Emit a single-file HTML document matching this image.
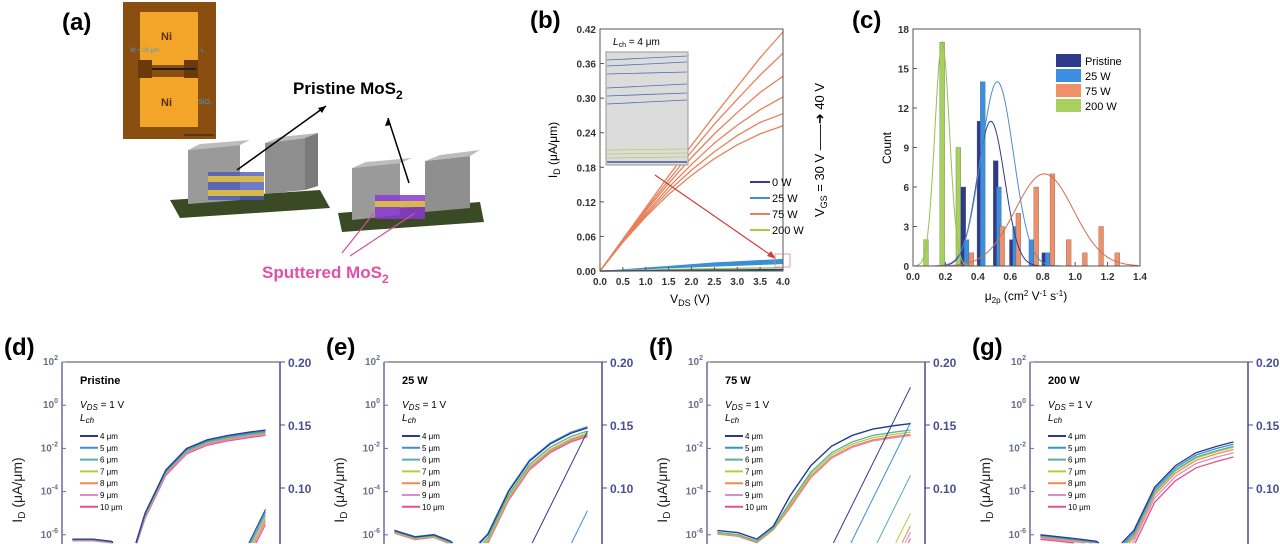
<!DOCTYPE html>
<html><head><meta charset="utf-8"><style>
html,body{margin:0;padding:0;background:#fff;width:1280px;height:544px;overflow:hidden;}
svg{display:block;font-family:"Liberation Sans",Arial,sans-serif;overflow:hidden;}
</style></head><body>
<svg id="s" width="1280" height="544" viewBox="0 0 1280 544" xmlns="http://www.w3.org/2000/svg">
<g>
<text x="62" y="30" font-size="24" font-weight="bold">(a)</text>
<g>
<rect x="123" y="2" width="93" height="137" fill="#8a4f10"/>
<rect x="140" y="12" width="58" height="53" fill="#f3a52a"/>
<rect x="140" y="77" width="58" height="50" fill="#f3a52a"/>
<rect x="138" y="60" width="14" height="18" fill="#6a3a0a"/>
<rect x="184" y="60" width="14" height="18" fill="#6a3a0a"/>
<line x1="152" y1="69" x2="196" y2="69" stroke="#222" stroke-width="2"/>
<text x="161" y="40" font-size="11" font-weight="bold" fill="#5a2d00">Ni</text>
<text x="161" y="106" font-size="11" font-weight="bold" fill="#5a2d00">Ni</text>
<text x="130" y="52" font-size="6" fill="#3aa0d0">W = 20 μm</text>
<text x="201" y="52" font-size="6" fill="#3aa0d0">L</text>
<text x="198" y="104" font-size="7" fill="#3aa0d0">SiO₂</text>
<line x1="184" y1="135" x2="214" y2="135" stroke="#222" stroke-width="1"/>
</g>
<g>
<polygon points="170,200 320,190 330,208 180,218" fill="#3a4a24"/>
<polygon points="188,150 240,145 240,200 188,204" fill="#9a9a9a"/>
<polygon points="188,150 240,145 250,140 200,144" fill="#bcbcbc"/>
<polygon points="265,143 305,138 305,190 265,194" fill="#8f8f8f"/>
<polygon points="265,143 305,138 318,133 280,137" fill="#bcbcbc"/>
<polygon points="305,138 318,133 318,186 305,190" fill="#7a7a7a"/>
<rect x="208" y="172" width="56" height="28" fill="#4a5ab8" opacity="0.8"/>
<rect x="208" y="176" width="56" height="6" fill="#d8b84a"/>
<rect x="208" y="190" width="56" height="6" fill="#d8b84a"/>
</g>
<g>
<polygon points="338,213 480,202 484,222 342,232" fill="#3a4a24"/>
<polygon points="352,168 400,163 400,215 352,220" fill="#9a9a9a"/>
<polygon points="352,168 400,163 412,158 366,162" fill="#bcbcbc"/>
<polygon points="425,161 470,156 470,208 425,212" fill="#8f8f8f"/>
<polygon points="425,161 470,156 480,150 440,155" fill="#bcbcbc"/>
<rect x="375" y="195" width="50" height="24" fill="#8a3ad0" opacity="0.85"/>
<rect x="375" y="201" width="50" height="6" fill="#d8b84a"/>
</g>
<line x1="237" y1="170" x2="326" y2="106" stroke="#000" stroke-width="1.5"/>
<polygon points="326,106 318,108 322,113" fill="#000"/>
<line x1="409" y1="183" x2="388" y2="118" stroke="#000" stroke-width="1.5"/>
<polygon points="388,118 385,126 391,125" fill="#000"/>
<text x="293" y="94" font-size="17" font-weight="bold">Pristine MoS<tspan font-size="12" dy="5">2</tspan></text>
<line x1="374" y1="213" x2="342" y2="253" stroke="#d050a0" stroke-width="1.2"/>
<line x1="415" y1="213" x2="350" y2="256" stroke="#d050a0" stroke-width="1.2"/>
<text x="262" y="278" font-size="17" font-weight="bold" fill="#e050a8">Sputtered MoS<tspan font-size="12" dy="5">2</tspan></text>
</g>
<g id="gb"></g>
<g id="gc"></g>
<g id="gd"></g>
</svg>
<script>
const NS="http://www.w3.org/2000/svg";
function mk(p,t,a,txt){const e=document.createElementNS(NS,t);for(const k in a)e.setAttribute(k,a[k]);if(txt!==undefined)e.textContent=txt;p.appendChild(e);return e;}

// ===== Panel b data =====
const vds=[0,0.5,1,1.5,2,2.5,3,3.5,4];
const w75a=[0,0.055,0.11,0.165,0.218,0.27,0.32,0.37,0.415];
const w75b=[0,0.054,0.107,0.158,0.207,0.255,0.298,0.34,0.378];
const w75c=[0,0.053,0.104,0.152,0.197,0.238,0.275,0.31,0.338];
const w75d=[0,0.052,0.1,0.145,0.185,0.222,0.253,0.28,0.302];
const w75e=[0,0.051,0.097,0.139,0.175,0.207,0.235,0.258,0.273];
const w75f=[0,0.05,0.094,0.133,0.166,0.195,0.219,0.238,0.252];
const w25=[0,0.003,0.006,0.009,0.012,0.015,0.017,0.019,0.021];
const w25lo=[0,0.0015,0.003,0.0045,0.006,0.0075,0.009,0.0105,0.012];
const w200=[0,0.0008,0.0016,0.0024,0.0032,0.004,0.0046,0.0052,0.0058];
const w0=[0,0.0003,0.0006,0.0009,0.0012,0.0015,0.0018,0.0021,0.0024];
const bYt=[0,0.06,0.12,0.18,0.24,0.30,0.36,0.42];
const bXt=[0,0.5,1,1.5,2,2.5,3,3.5,4];
(function(){
const g=document.getElementById('gb');
const X0=600,X1=783,Y0=271,Y1=29;
const x=v=>X0+(v/4)*(X1-X0), y=v=>Y0-(v/0.42)*(Y0-Y1);
mk(g,'text',{x:530,y:28,'font-size':24,'font-weight':'bold',},'(b)');
let band=mk(g,'path',{d:'M'+vds.map((v,i)=>x(v)+','+y(w25[i])).join('L')+'L'+vds.slice().reverse().map((v,i)=>x(v)+','+y(w25lo[8-i])).join('L')+'Z',fill:'#3a8fd6'});

const ser=[[w200,'#a8cc40'],[w0,'#2d3a8c']];
ser.forEach(s=>{const l=mk(g,'polyline',{points:vds.map((v,i)=>x(v)+','+y(s[0][i])).join(' '),fill:'none',stroke:s[1],'stroke-width':1.5});});
[w75a,w75b,w75c,w75d,w75e,w75f].forEach(a=>{const l=mk(g,'polyline',{points:vds.map((v,i)=>x(v)+','+y(a[i])).join(' '),fill:'none',stroke:'#e8805a','stroke-width':1.3});});
mk(g,'rect',{x:X0,y:Y1,width:X1-X0,height:Y0-Y1,fill:'none',stroke:'#555','stroke-width':1});
bYt.forEach(v=>{mk(g,'line',{x1:X0,x2:X0+4,y1:y(v),y2:y(v),stroke:'#555'});const t=mk(g,'text',{x:X0-4,y:y(v)+4,'font-size':10,'text-anchor':'end',fill:'#333','font-weight':'bold'},v.toFixed(2));});
bXt.forEach(v=>{mk(g,'line',{x1:x(v),x2:x(v),y1:Y0,y2:Y0-4,stroke:'#555'});const t=mk(g,'text',{x:x(v),y:Y0+14,'font-size':10,'text-anchor':'middle',fill:'#333','font-weight':'bold'},v.toFixed(1));});
const xt=mk(g,'text',{x:690,y:303,'font-size':12,'text-anchor':'middle',});
xt.innerHTML='V<tspan font-size="9" dy="3">DS</tspan><tspan dy="-3"> (V)</tspan>';
const yt=mk(g,'text',{transform:'translate(557,150) rotate(-90)','font-size':12,'text-anchor':'middle',});
yt.innerHTML='I<tspan font-size="9" dy="3">D</tspan><tspan dy="-3"> (μA/μm)</tspan>';
mk(g,'rect',{x:606,y:52,width:82,height:113,fill:'#dcdcdc',stroke:'#999',});
[[60,56],[66,62],[74,72],[88,84],[96,93],[104,100]].forEach(p=>mk(g,'line',{x1:607,x2:687,y1:p[0],y2:p[1],stroke:'#4a70b0','stroke-width':0.8}));
[150,154,158].forEach(v=>mk(g,'line',{x1:607,x2:687,y1:v,y2:v-1,stroke:'#b8cc60','stroke-width':0.8}));
mk(g,'line',{x1:607,x2:687,y1:162,y2:162,stroke:'#4a5a90','stroke-width':1.5});
const it=mk(g,'text',{x:613,y:45,'font-size':10,});
it.innerHTML='<tspan font-style="italic">L</tspan><tspan font-size="7" dy="2">ch</tspan><tspan dy="-2"> = 4 μm</tspan>';
mk(g,'line',{x1:655,y1:175,x2:772,y2:256,stroke:'#d04040','stroke-width':1.2});
mk(g,'polygon',{points:'776,259 767,256 771,251',fill:'#d04040'});
mk(g,'rect',{x:775,y:254,width:15,height:13,fill:'none',stroke:'#d88','stroke-width':0.8});
[['0 W','#3a3a8c'],['25 W','#3a8fd6'],['75 W','#e8805a'],['200 W','#a8cc40']].forEach((e,i)=>{const yy=182+i*16;const l=mk(g,'line',{x1:750,x2:770,y1:yy,y2:yy,stroke:e[1],'stroke-width':2});const t=mk(g,'text',{x:772,y:yy+4,'font-size':11},e[0]);});
const vg=mk(g,'text',{transform:'translate(824,150) rotate(-90)','font-size':13,'text-anchor':'middle',});
vg.innerHTML='V<tspan font-size="9" dy="3">GS</tspan><tspan dy="-3"> = 30 V  ——➜  40 V</tspan>';
})();

// ===== Panel c data =====
const cXt=[0,0.2,0.4,0.6,0.8,1.0,1.2,1.4];
const cYt=[0,3,6,9,12,15,18];
const binsPristine=[0.31,0.41,0.51,0.61,0.81];
const cntPristine=[6,11,8,2,1];
const bins25=[0.33,0.43,0.53,0.63,0.73,0.83];
const cnt25=[2,14,6,3,2,1];
const bins75=[0.36,0.55,0.65,0.76,0.86,0.96,1.06,1.16,1.26];
const cnt75=[1,3,4,6,7,2,1,3,1];
const bins200=[0.08,0.18,0.28];
const cnt200=[2,17,9];
const fitMean=[0.48,0.52,0.81,0.18];
const fitSd=[0.085,0.1,0.18,0.045];
const fitPeak=[11,14,7,17];
(function(){
const g=document.getElementById('gc');
const X0=913,X1=1140,Y0=266,Y1=29;
const x=v=>X0+(v/1.4)*(X1-X0), y=v=>Y0-(v/18)*(Y0-Y1);
mk(g,'text',{x:852,y:28,'font-size':24,'font-weight':'bold',},'(c)');
const cols=['#303a8c','#3a8fe0','#f0906a','#a8d060'];
const fcols=['#303a8c','#4a8fd0','#d07050','#98c050'];
[[bins200,cnt200,3],[binsPristine,cntPristine,0],[bins25,cnt25,1],[bins75,cnt75,2]].forEach(s=>{
 s[0].forEach((b,i)=>{const bw=x(0.03)-x(0);const r=mk(g,'rect',{x:x(b)-bw/2,y:y(s[1][i]),width:bw,height:Y0-y(s[1][i]),fill:cols[s[2]],stroke:'#555','stroke-width':0.3});});
});
for(let k=0;k<4;k++){let pts=[];for(let v=0;v<=1.4;v+=0.01){pts.push(x(v)+','+y(fitPeak[k]*Math.exp(-Math.pow(v-fitMean[k],2)/(2*fitSd[k]*fitSd[k]))));}
 const l=mk(g,'polyline',{points:pts.join(' '),fill:'none',stroke:fcols[k],'stroke-width':1});}
mk(g,'rect',{x:X0,y:Y1,width:X1-X0,height:Y0-Y1,fill:'none',stroke:'#555'});
cYt.forEach(v=>{mk(g,'line',{x1:X0,x2:X0+4,y1:y(v),y2:y(v),stroke:'#555'});const t=mk(g,'text',{x:X0-4,y:y(v)+4,'font-size':10,'text-anchor':'end','font-weight':'bold',fill:'#333'},v);});
cXt.forEach(v=>{mk(g,'line',{x1:x(v),x2:x(v),y1:Y0,y2:Y0-4,stroke:'#555'});const t=mk(g,'text',{x:x(v),y:Y0+14,'font-size':10,'text-anchor':'middle','font-weight':'bold',fill:'#333'},v.toFixed(1));});
mk(g,'text',{transform:'translate(891,148) rotate(-90)','font-size':12,'text-anchor':'middle',},'Count');
const xt=mk(g,'text',{x:1026,y:300,'font-size':12,'text-anchor':'middle',});
xt.innerHTML='μ<tspan font-size="8" dy="3">2p</tspan><tspan dy="-3"> (cm</tspan><tspan font-size="8" dy="-4">2</tspan><tspan dy="4"> V</tspan><tspan font-size="8" dy="-4">-1</tspan><tspan dy="4"> s</tspan><tspan font-size="8" dy="-4">-1</tspan><tspan dy="4">)</tspan>';
['Pristine','25 W','75 W','200 W'].forEach((n,i)=>{const yy=54+i*15;const r=mk(g,'rect',{x:1056,y:yy,width:25,height:13,fill:cols[i]});const t=mk(g,'text',{x:1085,y:yy+11,'font-size':11},n);});
})();

// ===== Panels d-g data =====
const vgUnits=[0.5,1.5,2.4,3.2,4,5,6,7,8,9,9.8];
const logPristine=[-6.2,-6.2,-6.3,-7.5,-5,-3,-2,-1.6,-1.4,-1.25,-1.15];
const log25=[-5.8,-6.1,-6,-6.3,-7,-6,-4,-2.6,-1.8,-1.3,-1.05];
const log75=[-5.8,-5.9,-6.2,-5.6,-4.2,-2.8,-1.9,-1.4,-1.1,-0.95,-0.85];
const log200=[-6.0,-6.1,-6.2,-6.3,-6.8,-5.8,-3.8,-2.8,-2.2,-1.9,-1.7];
const lenOffsetPristine=[0,-0.05,-0.1,-0.12,-0.15,-0.2,-0.25];
const lenOffset25=[0,0.05,-0.15,-0.25,-0.3,-0.35,-0.4];
const lenOffset75=[0,0,-0.3,-0.4,-0.5,-0.55,-0.55];
const lenOffset200=[0,-0.1,-0.2,-0.25,-0.35,-0.5,-0.7];
const linEndPristine=[0.083,0.081,0.079,0.077,0.075,0.073,0.071];
const linEnd25=[0.145,0.082,0.05,0.04,0.035,0.03,0.028];
const linEnd75=[0.18,0.152,0.11,0.08,0.07,0.065,0.06];
const linEnd200=[0.05,0.045,0.04,0.035,0.03,0.028,0.025];
const lenLabels=['4 μm','5 μm','6 μm','7 μm','8 μm','9 μm','10 μm'];
const leftTicks=[2,0,-2,-4,-6];
const rightTicks=[0.20,0.15,0.10];
const YMAX=543;
// split a point list into sub-polylines that stay within y<=YMAX
function clipPts(pts){const out=[];let cur=[];
 for(let i=0;i<pts.length;i++){const p=pts[i];const inside=p[1]<=YMAX;
  if(i>0){const q=pts[i-1];const qin=q[1]<=YMAX;
   if(inside!==qin){const t=(YMAX-q[1])/(p[1]-q[1]);const c=[q[0]+t*(p[0]-q[0]),YMAX];cur.push(c);if(!inside){out.push(cur);cur=[];}}}
  if(inside)cur.push(p);}
 if(cur.length)out.push(cur);return out.filter(s=>s.length>1);}
(function(){
const g=document.getElementById('gd');
const colsL=['#2d3a8c','#3a8fd6','#5ab0a0','#b8cc40','#f08a50','#d890c8','#e8508a'];
const panels=[['(d)','Pristine',logPristine,lenOffsetPristine,linEndPristine,62],['(e)','25 W',log25,lenOffset25,linEnd25,384],['(f)','75 W',log75,lenOffset75,linEnd75,707],['(g)','200 W',log200,lenOffset200,linEnd200,1030]];
panels.forEach(p=>{
 const X0=p[5],X1=X0+218,Yt=362;
 const x=u=>X0+u*(X1-X0)/10.5;
 const yl=v=>Yt+(2-v)*21.6;
 const yr=v=>Yt+(0.20-v)/0.05*63;
 const pg=mk(g,'g',{});
 mk(pg,'text',{x:X0-58,y:355,'font-size':24,'font-weight':'bold'},p[0]);
 for(let k=6;k>=0;k--){
  const raw=vgUnits.map((u,i)=>[x(u),yl(p[2][i]+p[3][k]*(i>3?1:0.3))]);
  clipPts(raw).forEach(seg=>{
   const l=mk(pg,'polyline',{points:seg.map(q=>q[0].toFixed(1)+','+q[1].toFixed(1)).join(' '),fill:'none',stroke:colsL[k],'stroke-width':1.3});
   
   
  });
  const lraw=[[x(9.8-(p[4][k]/0.03)*0.9),yr(0.0)],[x(9.8),yr(p[4][k])]];
  clipPts(lraw).forEach(seg=>{
   const ll=mk(pg,'polyline',{points:seg.map(q=>q[0].toFixed(1)+','+q[1].toFixed(1)).join(' '),fill:'none',stroke:colsL[k],'stroke-width':1});
   
   
  });
 }
 mk(pg,'line',{x1:X0,y1:Yt,x2:X1,y2:Yt,stroke:'#444'});
 mk(pg,'line',{x1:X0,y1:Yt,x2:X0,y2:544,stroke:'#6a6aa0','stroke-width':1.5});
 mk(pg,'line',{x1:X1,y1:Yt,x2:X1,y2:544,stroke:'#4a4a90','stroke-width':1.5});
 leftTicks.forEach(v=>{mk(pg,'line',{x1:X0,x2:X0+4,y1:yl(v),y2:yl(v),stroke:'#6a6aa0'});const t=mk(pg,'text',{x:X0-4,y:yl(v)+3,'font-size':10,'text-anchor':'end',fill:'#6a6f8a','font-weight':'bold'});t.innerHTML='10<tspan font-size="7" dy="-5">'+v+'</tspan>';});
 rightTicks.forEach(v=>{mk(pg,'line',{x1:X1,x2:X1+5,y1:yr(v),y2:yr(v),stroke:'#4a4a90'});const t=mk(pg,'text',{x:X1+8,y:yr(v)+5,'font-size':12,fill:'#4a4f90','font-weight':'bold'},v.toFixed(2));});
 const yt=mk(pg,'text',{transform:'translate('+(X0-40)+',490) rotate(-90)','font-size':14,'text-anchor':'middle',fill:'#222'});
 yt.innerHTML='I<tspan font-size="10" dy="3">D</tspan><tspan dy="-3"> (μA/μm)</tspan>';
 
 const lx=X0+18;
 const tt=mk(pg,'text',{x:lx,y:384,'font-size':11,'font-weight':'bold'},p[1]);
 const v1=mk(pg,'text',{x:lx,y:408,'font-size':10});v1.innerHTML='<tspan font-style="italic">V</tspan><tspan font-style="italic" font-size="8" dy="2">DS</tspan><tspan dy="-2"> = 1 V</tspan>';
 const v2=mk(pg,'text',{x:lx,y:421,'font-size':10});v2.innerHTML='<tspan font-style="italic">L</tspan><tspan font-style="italic" font-size="8" dy="2">ch</tspan>';
 lenLabels.forEach((n,k)=>{const yy=436+k*11.8;const l=mk(pg,'line',{x1:lx,x2:lx+18,y1:yy,y2:yy,stroke:colsL[k],'stroke-width':2});const t=mk(pg,'text',{x:lx+20,y:yy+3,'font-size':8},n);});
});
})();
</script>
</body></html>
